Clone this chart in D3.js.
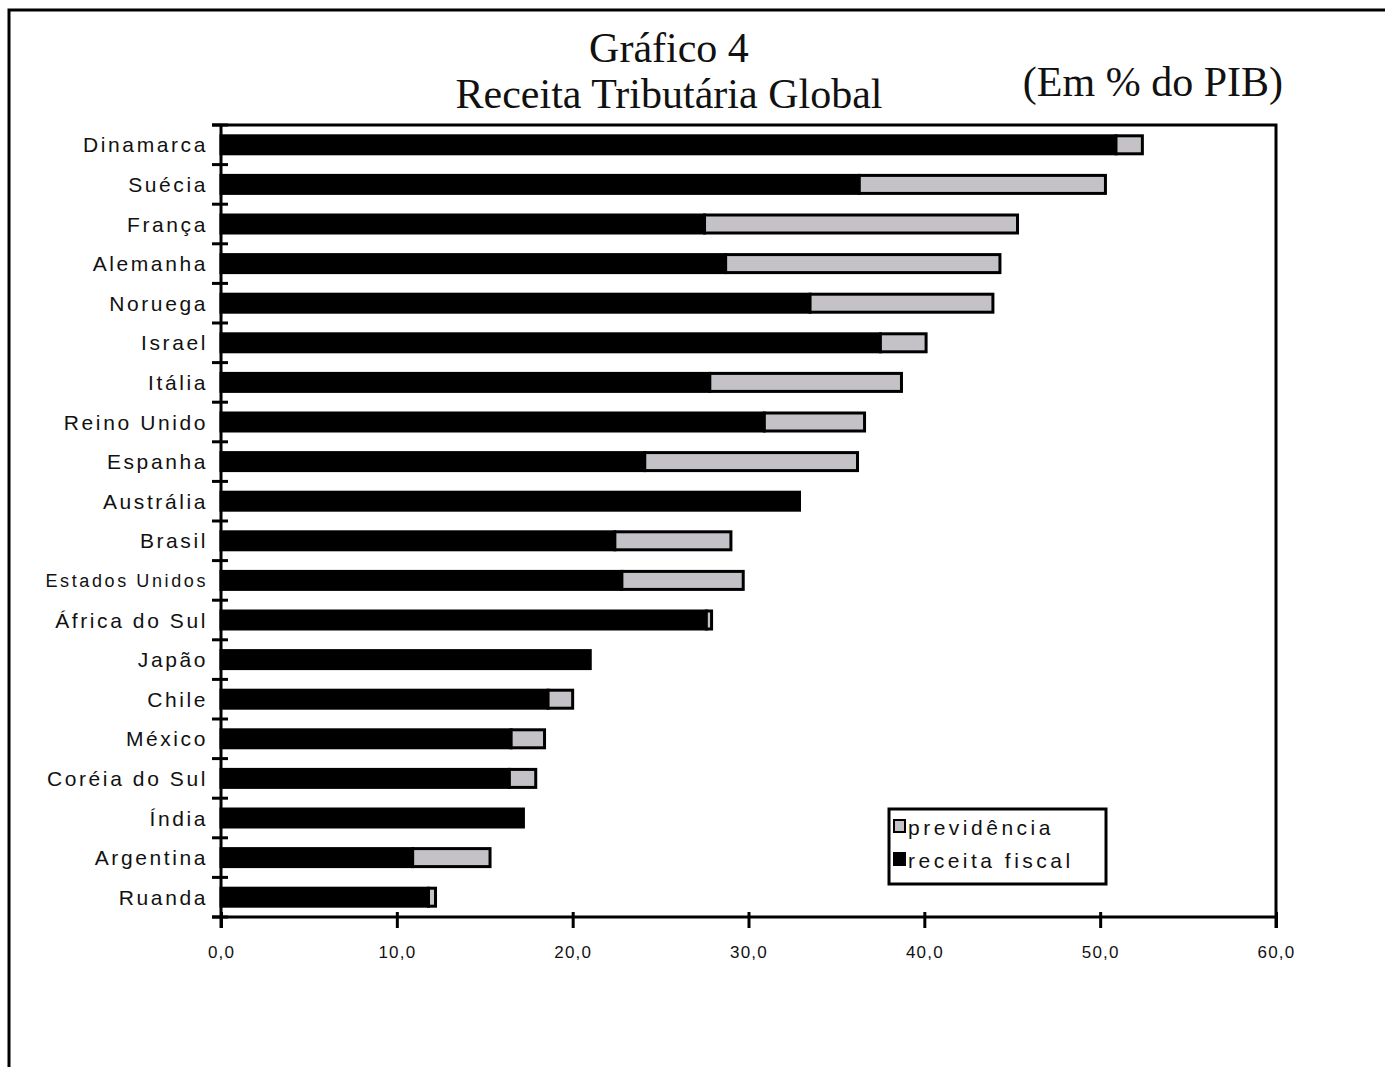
<!DOCTYPE html>
<html>
<head>
<meta charset="utf-8">
<script src="https://cdn.jsdelivr.net/npm/d3@7"></script>
<style>
  body { margin: 0; background: #fff; }
  svg { display: block; }
  .cat { font-family: "Liberation Sans", Arial, sans-serif; font-size: 21px; letter-spacing: 2.6px; fill: #111; }
  .tick-label { font-family: "Liberation Sans", Arial, sans-serif; font-size: 17px; letter-spacing: 1.2px; fill: #111; }
  .title { font-family: "Liberation Serif", "Times New Roman", serif; font-size: 42px; fill: #111; }
</style>
</head>
<body>
<svg id="chart" width="1385" height="1067"></svg>
<script>
// Países (de cima para baixo)
const countries = [
  'Dinamarca', 'Suécia', 'França', 'Alemanha', 'Noruega', 'Israel', 'Itália',
  'Reino Unido', 'Espanha', 'Austrália', 'Brasil', 'Estados Unidos',
  'África do Sul', 'Japão', 'Chile', 'México', 'Coréia do Sul', 'Índia',
  'Argentina', 'Ruanda'
];

// Receita fiscal (% do PIB)
const receitaFiscal = [
  50.9, 36.3, 27.5, 28.7, 33.5, 37.5, 27.8, 30.9, 24.1, 32.9,
  22.4, 22.8, 27.6, 21.0, 18.6, 16.5, 16.4, 17.2, 10.9, 11.8
];

// Previdência (% do PIB)
const previdencia = [
  1.5, 14.0, 17.8, 15.6, 10.4, 2.6, 10.9, 5.7, 12.1, 0,
  6.6, 6.9, 0.3, 0, 1.4, 1.9, 1.5, 0, 4.4, 0.4
];

const xTicks = [0, 10, 20, 30, 40, 50, 60];

const keys = ['receitaFiscal', 'previdencia'];
const colors = { receitaFiscal: '#000000', previdencia: '#c4c2c6' };
const legendLabels = { previdencia: 'previdência', receitaFiscal: 'receita fiscal' };

const svg = d3.select('#chart');

// Moldura externa
svg.append('rect')
  .attr('x', 9).attr('y', 10)
  .attr('width', 1500).attr('height', 1200)
  .attr('fill', 'none').attr('stroke', '#000').attr('stroke-width', 3);

// Títulos
svg.append('text').attr('class', 'title')
  .attr('x', 669).attr('y', 62).attr('text-anchor', 'middle')
  .text('Gráfico 4');
svg.append('text').attr('class', 'title')
  .attr('x', 669).attr('y', 108).attr('text-anchor', 'middle')
  .text('Receita Tributária Global');
svg.append('text').attr('class', 'title')
  .attr('x', 1283).attr('y', 96).attr('text-anchor', 'end')
  .text('(Em % do PIB)');

// Área do gráfico
const plot = { left: 221, right: 1276, top: 125, bottom: 917 };

const x = d3.scaleLinear()
  .domain([0, 60])
  .range([plot.left, plot.right]);

const y = d3.scaleBand()
  .domain(countries)
  .range([plot.top, plot.bottom])
  .padding(0);

const rows = countries.map((c, i) => ({
  country: c,
  receitaFiscal: receitaFiscal[i],
  previdencia: previdencia[i]
}));

const stacked = d3.stack().keys(keys)(rows);

// Barras
const barH = 18;
const layers = svg.append('g').selectAll('g')
  .data(stacked)
  .enter().append('g')
  .attr('fill', d => colors[d.key]);

layers.selectAll('rect')
  .data(d => d.filter(s => s[1] - s[0] > 0))
  .enter().append('rect')
  .attr('x', d => x(d[0]))
  .attr('width', d => x(d[1]) - x(d[0]))
  .attr('y', d => y(d.data.country) + y.bandwidth() / 2 - barH / 2)
  .attr('height', barH)
  .attr('stroke', '#000')
  .attr('stroke-width', 3);

// Borda superior e direita do gráfico
svg.append('path')
  .attr('d', `M${plot.left - 9},${plot.top}H${plot.right}V${plot.bottom + 11}`)
  .attr('fill', 'none').attr('stroke', '#000').attr('stroke-width', 3);

// Eixo Y
svg.append('line')
  .attr('x1', plot.left).attr('x2', plot.left)
  .attr('y1', plot.top).attr('y2', plot.bottom + 11)
  .attr('stroke', '#000').attr('stroke-width', 3);

const boundaries = countries.map(c => y(c)).concat([plot.bottom]);
svg.append('g').selectAll('line')
  .data(boundaries)
  .enter().append('line')
  .attr('x1', plot.left - 9).attr('x2', plot.left + 7)
  .attr('y1', d => d).attr('y2', d => d)
  .attr('stroke', '#000').attr('stroke-width', 3);

svg.append('g').selectAll('text')
  .data(countries)
  .enter().append('text')
  .attr('class', 'cat')
  .attr('x', plot.left - 13)
  .attr('y', d => y(d) + y.bandwidth() / 2)
  .attr('dy', '0.36em')
  .attr('text-anchor', 'end')
  .style('font-size', d => d === 'Estados Unidos' ? '18px' : null)
  .text(d => d);

// Eixo X
const xAxis = d3.axisBottom(x)
  .tickValues(xTicks)
  .tickSize(11)
  .tickSizeOuter(0)
  .tickFormat(d => d3.format('.1f')(d).replace('.', ','));

const gx = svg.append('g')
  .attr('transform', `translate(0,${plot.bottom})`)
  .call(xAxis);

gx.select('.domain').remove();
gx.selectAll('.tick line')
  .attr('y1', -5)
  .attr('stroke', '#000').attr('stroke-width', 3);
gx.selectAll('.tick text')
  .attr('class', 'tick-label')
  .attr('y', 35)
  .attr('dy', '0.36em')
  .attr('font-family', null).attr('font-size', null);

svg.append('line')
  .attr('x1', plot.left - 9).attr('x2', plot.right)
  .attr('y1', plot.bottom).attr('y2', plot.bottom)
  .attr('stroke', '#000').attr('stroke-width', 3);

// Legenda
const legend = svg.append('g').attr('transform', 'translate(889,809)');
legend.append('rect')
  .attr('width', 217).attr('height', 75)
  .attr('fill', '#fff').attr('stroke', '#000').attr('stroke-width', 3);

const legendItems = legend.selectAll('g.item')
  .data(['previdencia', 'receitaFiscal'])
  .enter().append('g')
  .attr('class', 'item')
  .attr('transform', (d, i) => `translate(5,${11 + i * 33})`);

legendItems.append('rect')
  .attr('width', 11).attr('height', 12)
  .attr('fill', d => colors[d])
  .attr('stroke', '#000').attr('stroke-width', 2);

legendItems.append('text')
  .attr('class', 'cat')
  .attr('x', 14)
  .attr('y', 7)
  .attr('dy', '0.36em')
  .style('letter-spacing', '3.5px')
  .text(d => legendLabels[d]);
</script>
</body>
</html>
